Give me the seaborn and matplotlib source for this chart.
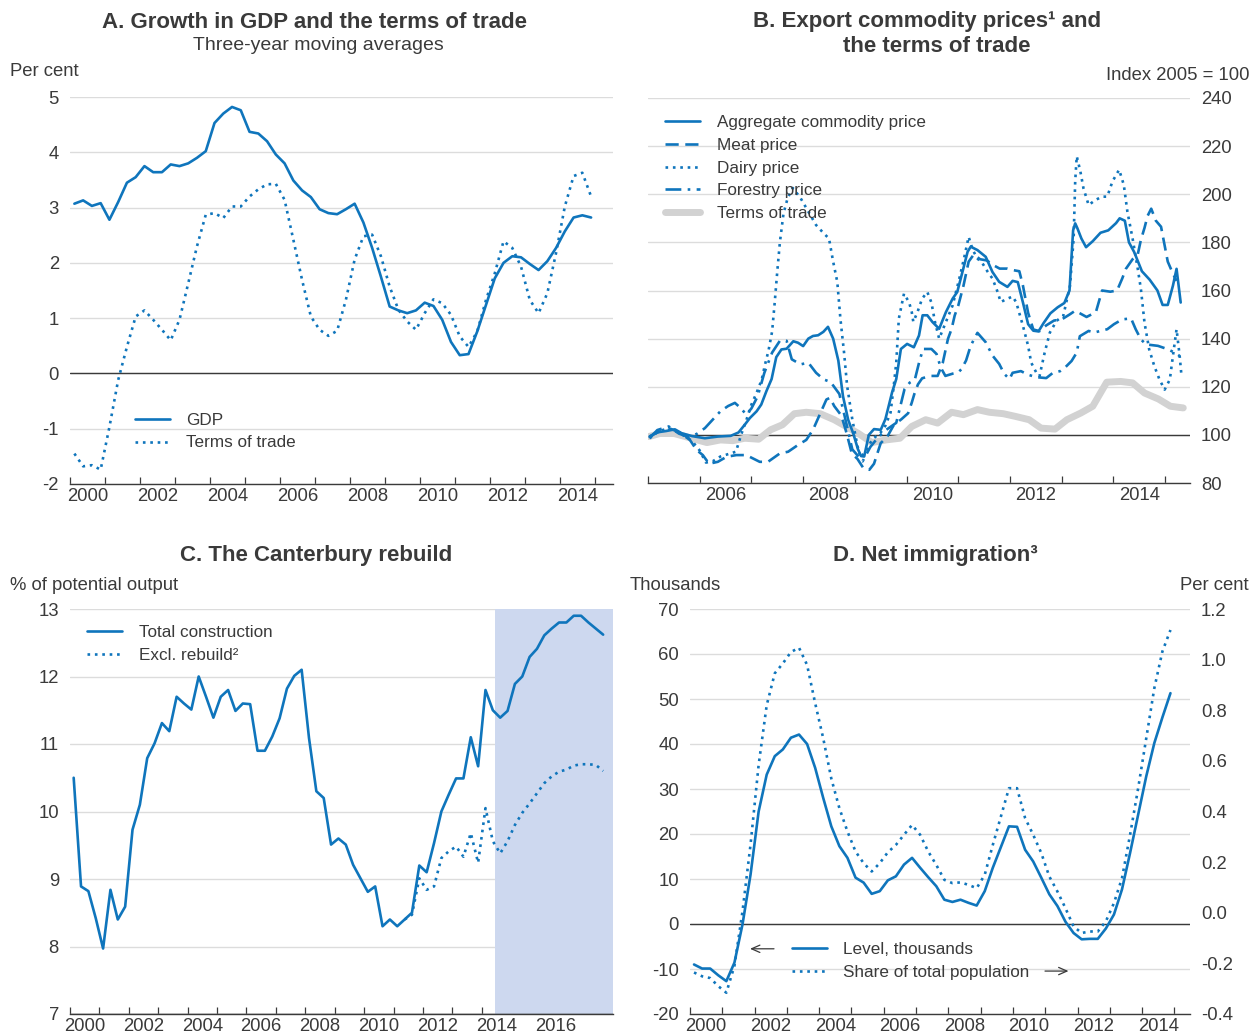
import numpy as np
import pandas as pd
import matplotlib
matplotlib.use("Agg")
import matplotlib.pyplot as plt
import seaborn as sns
from matplotlib.ticker import NullFormatter, FormatStrFormatter

# colours
BLUE = "#0F75BC"
GREY_TOT = "#D2D2D2"
GRID = "#DCDCDC"
TXT = "#3A3A3A"
SHADE = "#CDD8EF"

# ---------------- A. GDP growth and terms of trade (quarterly, 2000Q1-2014Q4)
gdp_growth = [3.07, 3.13, 3.03, 3.08, 2.78, 3.10, 3.45, 3.55,
              3.75, 3.64, 3.64, 3.78, 3.75, 3.80, 3.90, 4.02,
              4.53, 4.70, 4.82, 4.76, 4.37, 4.34, 4.20, 3.96,
              3.80, 3.49, 3.31, 3.19, 2.97, 2.90, 2.88, 2.97,
              3.07, 2.73, 2.27, 1.75, 1.21, 1.14, 1.09, 1.14,
              1.28, 1.22, 0.97, 0.57, 0.33, 0.35, 0.76, 1.24,
              1.72, 2.00, 2.12, 2.10, 1.98, 1.87, 2.03, 2.27,
              2.57, 2.82, 2.86, 2.82]
tot_growth = [-1.45, -1.68, -1.66, -1.74, -0.97, -0.12, 0.48, 1.03,
              1.14, 0.97, 0.79, 0.60, 0.97, 1.63, 2.30, 2.87,
              2.90, 2.81, 3.02, 3.02, 3.20, 3.33, 3.42, 3.43,
              3.14, 2.42, 1.69, 1.03, 0.79, 0.68, 0.77, 1.33,
              2.06, 2.48, 2.51, 2.12, 1.57, 1.15, 0.94, 0.79,
              1.09, 1.34, 1.27, 1.06, 0.67, 0.48, 0.76, 1.33,
              1.81, 2.39, 2.27, 1.93, 1.33, 1.09, 1.45, 2.18,
              3.02, 3.57, 3.63, 3.20]

# ---------------- B. Export commodity prices (index 2005 = 100)
agg_t = [2005.03, 2005.16, 2005.35, 2005.52, 2005.65, 2005.85, 2006.10, 2006.35,
         2006.60, 2006.75, 2006.87, 2006.97, 2007.10, 2007.19, 2007.29, 2007.39,
         2007.48, 2007.58, 2007.68, 2007.81, 2007.90, 2008.00, 2008.10, 2008.19,
         2008.29, 2008.39, 2008.48, 2008.58, 2008.68, 2008.77, 2008.87, 2008.97,
         2009.06, 2009.12, 2009.18, 2009.27, 2009.37, 2009.50, 2009.59, 2009.72,
         2009.80, 2009.89, 2010.01, 2010.14, 2010.24, 2010.31, 2010.40, 2010.50,
         2010.63, 2010.76, 2010.89, 2010.98, 2011.08, 2011.18, 2011.24, 2011.37,
         2011.53, 2011.66, 2011.79, 2011.95, 2012.05, 2012.15, 2012.25, 2012.35,
         2012.45, 2012.55, 2012.65, 2012.78, 2012.92, 2013.05, 2013.15, 2013.22,
         2013.26, 2013.30, 2013.38, 2013.47, 2013.60, 2013.75, 2013.90, 2014.05,
         2014.12, 2014.22, 2014.30, 2014.40, 2014.55, 2014.70, 2014.85, 2014.95,
         2015.05, 2015.15, 2015.22, 2015.30]
agg_v = [99.3, 101.0, 101.6, 102.3, 100.7, 99.5, 98.6, 99.3,
         99.6, 101.0, 104.2, 107.0, 109.8, 112.6, 118.2, 123.2,
         132.3, 135.5, 135.8, 138.9, 138.3, 136.9, 140.0, 141.1,
         141.4, 142.8, 144.9, 140.0, 130.9, 116.1, 106.3, 100.5,
         94.0, 91.2, 91.0, 100.0, 102.4, 102.1, 106.5, 117.7,
         123.2, 135.7, 137.8, 136.4, 141.3, 149.7, 149.7, 146.9,
         144.1, 151.0, 156.6, 159.4, 167.7, 176.1, 178.2, 176.8,
         174.0, 167.7, 163.6, 161.5, 164.0, 163.5, 155.0, 146.0,
         143.3, 143.0, 146.5, 150.5, 153.0, 154.8, 160.0, 185.0,
         187.9, 186.0, 181.6, 178.0, 180.5, 184.0, 185.0, 188.0,
         190.0, 189.0, 180.0, 176.0, 168.0, 164.5, 160.0, 154.0,
         154.0, 162.0, 169.0, 155.0]

meat_t = [2005.03, 2005.20, 2005.45, 2005.61, 2005.81, 2005.94, 2006.06, 2006.18,
          2006.35, 2006.52, 2006.71, 2006.90, 2007.16, 2007.32, 2007.55, 2007.71,
          2007.90, 2008.06, 2008.19, 2008.32, 2008.45, 2008.52, 2008.60, 2008.74,
          2008.84, 2008.94, 2009.05, 2009.17, 2009.28, 2009.37, 2009.50, 2009.62,
          2009.75, 2009.90, 2010.03, 2010.10, 2010.15, 2010.22, 2010.30, 2010.45,
          2010.60, 2010.70, 2010.80, 2010.87, 2010.93, 2011.00, 2011.10, 2011.20,
          2011.30, 2011.42, 2011.55, 2011.68, 2011.80, 2011.95, 2012.05, 2012.18,
          2012.25, 2012.35, 2012.45, 2012.57, 2012.70, 2012.85, 2013.00, 2013.15,
          2013.26, 2013.48, 2013.66, 2013.78, 2013.94, 2014.07, 2014.17, 2014.24,
          2014.37, 2014.47, 2014.53, 2014.60, 2014.66, 2014.73, 2014.82, 2014.92,
          2015.05, 2015.15, 2015.22]
meat_v = [99.3, 101.2, 102.4, 101.0, 97.9, 93.7, 91.6, 88.0,
          88.8, 90.9, 91.6, 91.6, 88.8, 88.8, 92.3, 93.0,
          95.8, 97.9, 102.1, 108.4, 114.7, 115.4, 112.0, 108.0,
          100.7, 92.3, 90.0, 86.0, 85.5, 88.0, 96.6, 99.0,
          104.0, 106.5, 109.0, 113.4, 117.0, 121.0, 123.5, 124.5,
          124.5, 130.0, 139.9, 144.0, 149.6, 153.8, 162.0, 172.0,
          175.0, 173.0, 172.5, 170.5, 169.1, 169.1, 168.5, 168.0,
          162.0, 150.7, 143.8, 143.1, 145.5, 147.5, 148.0, 150.0,
          151.6, 149.0, 151.0, 160.0, 159.5, 160.0, 165.0, 169.0,
          173.0, 175.0, 181.0, 186.0, 191.0, 194.0, 189.0, 186.5,
          172.0, 167.0, 164.0]

dairy_t = [2005.03, 2005.20, 2005.40, 2005.62, 2005.85, 2006.00, 2006.12, 2006.25,
           2006.40, 2006.55, 2006.70, 2006.80, 2006.90, 2007.00, 2007.10, 2007.20,
           2007.26, 2007.33, 2007.40, 2007.45, 2007.50, 2007.55, 2007.62, 2007.70,
           2007.80, 2007.95, 2008.10, 2008.25, 2008.40, 2008.50, 2008.58, 2008.66,
           2008.72, 2008.79, 2008.85, 2008.95, 2009.05, 2009.11, 2009.20, 2009.34,
           2009.50, 2009.59, 2009.69, 2009.75, 2009.80, 2009.85, 2009.95, 2010.05,
           2010.10, 2010.13, 2010.21, 2010.30, 2010.40, 2010.48, 2010.55, 2010.63,
           2010.76, 2010.89, 2011.02, 2011.11, 2011.20, 2011.28, 2011.37, 2011.47,
           2011.57, 2011.66, 2011.76, 2011.82, 2011.95, 2012.05, 2012.12, 2012.25,
           2012.35, 2012.41, 2012.51, 2012.57, 2012.67, 2012.77, 2012.90, 2013.03,
           2013.16, 2013.23, 2013.26, 2013.29, 2013.36, 2013.42, 2013.52, 2013.65,
           2013.78, 2013.88, 2013.98, 2014.11, 2014.20, 2014.27, 2014.37, 2014.47,
           2014.53, 2014.60, 2014.69, 2014.79, 2014.89, 2014.99, 2015.09, 2015.15,
           2015.22, 2015.28, 2015.31]
dairy_v = [98.6, 101.4, 102.8, 100.7, 97.5, 93.5, 88.5, 89.0,
           91.0, 92.0, 93.0, 100.0, 106.0, 112.6, 117.5, 123.0,
           129.0, 135.0, 143.0, 155.0, 168.0, 180.0, 192.0, 198.4,
           202.6, 198.4, 192.8, 187.2, 183.7, 181.6, 172.0, 163.6,
           148.3, 134.4, 120.4, 106.5, 95.4, 90.5, 93.0, 98.2,
           101.0, 103.8, 109.3, 120.0, 130.0, 148.3, 158.7, 155.0,
           151.0, 147.0, 151.0, 156.6, 159.4, 155.0, 146.8, 140.0,
           146.9, 153.8, 165.0, 173.3, 182.3, 176.8, 173.3, 171.2,
           167.7, 165.0, 159.4, 155.2, 156.6, 157.5, 155.1, 145.3,
           137.0, 130.0, 125.8, 124.4, 134.2, 142.5, 147.4, 149.5,
           162.0, 181.6, 205.3, 215.8, 209.5, 202.5, 195.5, 197.6,
           199.0, 199.0, 205.3, 210.2, 203.9, 192.7, 181.6, 169.0,
           160.7, 146.7, 135.6, 128.6, 123.0, 118.8, 123.0, 132.8,
           143.9, 132.8, 125.8]

forest_t = [2005.03, 2005.18, 2005.40, 2005.60, 2005.80, 2005.95, 2006.10, 2006.25,
            2006.40, 2006.55, 2006.68, 2006.80, 2006.90, 2007.00, 2007.12, 2007.25,
            2007.40, 2007.55, 2007.68, 2007.78, 2007.95, 2008.10, 2008.25, 2008.40,
            2008.53, 2008.70, 2008.80, 2008.95, 2009.05, 2009.15, 2009.30, 2009.45,
            2009.60, 2009.80, 2009.96, 2010.06, 2010.16, 2010.25, 2010.32, 2010.48,
            2010.58, 2010.66, 2010.75, 2010.90, 2011.00, 2011.06, 2011.15, 2011.24,
            2011.37, 2011.53, 2011.66, 2011.79, 2011.89, 2011.99, 2012.05, 2012.21,
            2012.35, 2012.50, 2012.70, 2012.83, 2012.97, 2013.06, 2013.19, 2013.29,
            2013.35, 2013.52, 2013.62, 2013.75, 2013.88, 2014.01, 2014.17, 2014.34,
            2014.43, 2014.53, 2014.63, 2014.86, 2015.05, 2015.18, 2015.28]
forest_v = [98.6, 102.0, 103.5, 100.5, 99.0, 100.5, 102.8, 106.3,
            109.8, 112.0, 113.3, 111.0, 108.4, 111.0, 116.0, 125.8,
            134.2, 139.1, 139.1, 131.4, 129.3, 130.0, 125.8, 123.0,
            122.0, 117.0, 108.0, 94.0, 91.5, 89.0, 95.0, 99.0,
            102.0, 105.0, 119.0, 121.7, 123.0, 130.8, 135.7, 135.7,
            133.6, 128.0, 124.5, 125.5, 126.0, 127.3, 130.9, 137.1,
            142.4, 138.5, 133.0, 129.5, 125.3, 123.2, 125.8, 126.5,
            125.0, 124.0, 123.6, 125.8, 126.5, 127.9, 130.7, 134.2,
            141.0, 143.2, 142.5, 143.2, 143.9, 146.0, 148.0, 148.4,
            143.9, 139.7, 137.6, 137.0, 135.6, 134.2, 132.8]

tot_idx_t = [2005.02, 2005.25, 2005.48, 2005.72, 2005.95, 2006.14, 2006.40, 2006.64,
             2006.87, 2007.14, 2007.37, 2007.60, 2007.83, 2008.06, 2008.33, 2008.60,
             2008.83, 2009.06, 2009.33, 2009.60, 2009.87, 2010.10, 2010.37, 2010.60,
             2010.87, 2011.10, 2011.37, 2011.60, 2011.87, 2012.10, 2012.37, 2012.60,
             2012.87, 2013.10, 2013.37, 2013.60, 2013.87, 2014.14, 2014.37, 2014.60,
             2014.87, 2015.10, 2015.35]
tot_idx_v = [99.3, 100.7, 100.7, 99.3, 97.9, 96.8, 97.9, 97.6,
             98.6, 98.2, 102.1, 104.2, 108.8, 109.4, 108.8, 106.3,
             103.5, 100.7, 96.8, 97.9, 98.6, 103.5, 106.3, 104.9,
             109.4, 108.4, 110.5, 109.4, 108.8, 107.7, 106.3, 102.8,
             102.4, 106.3, 109.1, 111.9, 121.9, 122.2, 121.6, 117.4,
             114.9, 111.9, 111.2]

# ---------------- C. Canterbury rebuild (quarterly, 2000Q1-2018Q1)
construction = [10.50, 8.89, 8.82, 8.42, 7.97, 8.84, 8.40, 8.59,
                9.73, 10.10, 10.79, 11.01, 11.31, 11.19, 11.70, 11.60,
                11.51, 12.00, 11.70, 11.39, 11.70, 11.80, 11.49, 11.60,
                11.59, 10.90, 10.90, 11.11, 11.38, 11.82, 12.01, 12.10,
                11.09, 10.30, 10.20, 9.51, 9.60, 9.51, 9.21, 9.01,
                8.81, 8.89, 8.30, 8.40, 8.30, 8.40, 8.50, 9.20,
                9.10, 9.53, 10.00, 10.25, 10.49, 10.49, 11.10, 10.67,
                11.80, 11.50, 11.39, 11.49, 11.89, 12.00, 12.29, 12.41,
                12.61, 12.71, 12.80, 12.80, 12.90, 12.90, 12.80, 12.71,
                12.62]
# excluding rebuild, from 2011Q2
excl_rebuild = [8.40, 8.47, 9.01, 8.84, 8.89, 9.31, 9.41, 9.48,
                9.33, 9.68, 9.24, 10.05, 9.56, 9.38, 9.56, 9.80,
                9.98, 10.12, 10.27, 10.42, 10.52, 10.59, 10.62, 10.68,
                10.70, 10.70, 10.69, 10.60]
projection_start = 2014.45

# ---------------- D. Net immigration (quarterly, 2000Q1-2014Q4)
migr_level = [-9.0, -9.9, -9.9, -11.4, -12.7, -8.6, -0.1, 11.0, 25.0, 33.2,
              37.3, 38.8, 41.4, 42.1, 40.0, 34.7, 28.0, 21.7, 17.3, 14.7,
              10.3, 9.2, 6.7, 7.3, 9.7, 10.6, 13.2, 14.7, 12.5, 10.4,
              8.4, 5.4, 4.9, 5.4, 4.7, 4.1, 7.3, 12.5, 17.1, 21.7,
              21.6, 16.5, 13.9, 10.3, 6.6, 4.0, 0.5, -2.0, -3.4, -3.3,
              -3.3, -1.0, 2.1, 7.7, 15.8, 24.3, 32.8, 40.2, 45.9, 51.3]
migr_share = [-0.236, -0.251, -0.258, -0.290, -0.316, -0.210, 0.005, 0.270, 0.584, 0.820,
              0.946, 0.985, 1.030, 1.047, 0.979, 0.828, 0.689, 0.530, 0.413, 0.321,
              0.242, 0.196, 0.163, 0.196, 0.239, 0.268, 0.308, 0.347, 0.308, 0.242,
              0.189, 0.130, 0.117, 0.120, 0.110, 0.097, 0.150, 0.268, 0.380, 0.492,
              0.492, 0.374, 0.308, 0.236, 0.143, 0.084, 0.018, -0.054, -0.080, -0.074,
              -0.074, -0.034, 0.038, 0.137, 0.308, 0.492, 0.689, 0.887, 1.032, 1.117]

# quarter mid-points
q_a = np.arange(2000, 2015, 0.25) + 0.125
q_c = np.arange(2000, 2018.25, 0.25) + 0.125
df_a = pd.DataFrame({"date": q_a, "gdp": gdp_growth, "tot": tot_growth})
df_c = pd.DataFrame({"date": q_c, "total": construction})
df_c_ex = pd.DataFrame({"date": q_c[-len(excl_rebuild):], "excl": excl_rebuild})
df_d = pd.DataFrame({"date": q_a, "level": migr_level, "share": migr_share})

sns.set_theme(style="white")
plt.rcParams["font.family"] = ["Liberation Sans", "DejaVu Sans"]
plt.rcParams["axes.unicode_minus"] = False

W, H = 1251, 1036
fig = plt.figure(figsize=(W / 100, H / 100), dpi=100)


def px_axes(left, right, top, bottom):
    return fig.add_axes([left / W, 1 - bottom / H, (right - left) / W, (bottom - top) / H])


DOT = (0, (1, 1.8))
DASH = (0, (5, 2.5))
DASHDOT = (0, (6, 2.4, 1, 2.4))
LW = 1.9
FS = 13.3      # ticks and unit labels
LFS = 12.3     # legend
TFS = 16       # panel titles


def style_axis(ax, x0, x1, lab0, lab1, yticks, zero=0.0, right=False):
    ax.set_xlim(x0, x1)
    ax.set_xticks(range(int(np.ceil(x0 - 0.01)), int(x1) + 1))
    ax.xaxis.set_major_formatter(NullFormatter())
    years = list(range(lab0, lab1 + 1, 2))
    ax.set_xticks([y + 0.5 for y in years], minor=True)
    ax.set_xticklabels([str(y) for y in years], minor=True)
    ax.tick_params(axis="x", which="major", direction="in", length=5, width=0.9,
                   color=TXT, bottom=True)
    ax.tick_params(axis="x", which="minor", length=0, labelsize=FS, labelcolor=TXT, pad=3)
    ax.set_ylim(yticks[0], yticks[-1])
    ax.set_yticks(yticks)
    ax.tick_params(axis="y", length=0, labelsize=FS, labelcolor=TXT, pad=8)
    if right:
        ax.yaxis.tick_right()
    for s in ["top", "left", "right"]:
        ax.spines[s].set_visible(False)
    ax.spines["bottom"].set_color(TXT)
    ax.spines["bottom"].set_linewidth(1.0)
    ax.grid(axis="y", color=GRID, lw=1.0)
    ax.grid(axis="x", visible=False)
    ax.set_axisbelow(True)
    ax.axhline(zero, color=TXT, lw=1.0, zorder=1.5)
    ax.set_xlabel("")
    ax.set_ylabel("")


def legend(ax, handles, labels, x, y):
    leg = ax.legend(handles, labels, loc="upper left", bbox_to_anchor=(x, y),
                    frameon=False, fontsize=LFS, handlelength=2.05, handletextpad=0.95,
                    labelspacing=0.45, borderpad=0, borderaxespad=0)
    for t in leg.get_texts():
        t.set_color(TXT)
    return leg


# ---- Panel A
axA = px_axes(70, 613, 97, 484)
sns.lineplot(data=df_a, x="date", y="gdp", ax=axA, color=BLUE, lw=LW, errorbar=None)
sns.lineplot(data=df_a, x="date", y="tot", ax=axA, color=BLUE, lw=LW, errorbar=None,
             linestyle=DOT, dash_capstyle="butt")
style_axis(axA, 2000.0, 2015.5, 2000, 2014, [-2, -1, 0, 1, 2, 3, 4, 5])
legend(axA, axA.lines[:2], ["GDP", "Terms of trade"], 0.12, 0.184)

# ---- Panel B
axB = px_axes(648, 1190, 98, 483)
sns.lineplot(x=tot_idx_t, y=tot_idx_v, ax=axB, color=GREY_TOT, lw=5.0, errorbar=None)
sns.lineplot(x=forest_t, y=forest_v, ax=axB, color=BLUE, lw=LW, errorbar=None,
             linestyle=DASHDOT, dash_capstyle="butt")
sns.lineplot(x=dairy_t, y=dairy_v, ax=axB, color=BLUE, lw=LW, errorbar=None,
             linestyle=DOT, dash_capstyle="butt")
sns.lineplot(x=meat_t, y=meat_v, ax=axB, color=BLUE, lw=LW, errorbar=None,
             linestyle=DASH, dash_capstyle="butt")
sns.lineplot(x=agg_t, y=agg_v, ax=axB, color=BLUE, lw=LW, errorbar=None)
style_axis(axB, 2005.0, 2015.48, 2006, 2014, list(range(80, 241, 20)), zero=100, right=True)
lB = axB.lines
legend(axB, [lB[4], lB[3], lB[2], lB[1], lB[0]],
       ["Aggregate commodity price", "Meat price", "Dairy price", "Forestry price",
        "Terms of trade"], 0.032, 0.955)

# ---- Panel C
axC = px_axes(70, 613, 609, 1014)
axC.axvspan(projection_start, 2018.46, color=SHADE, lw=0, zorder=1)
sns.lineplot(data=df_c, x="date", y="total", ax=axC, color=BLUE, lw=LW, errorbar=None, zorder=3)
sns.lineplot(data=df_c_ex, x="date", y="excl", ax=axC, color=BLUE, lw=LW, errorbar=None,
             linestyle=DOT, dash_capstyle="butt", zorder=3)
style_axis(axC, 2000.0, 2018.46, 2000, 2016, [7, 8, 9, 10, 11, 12, 13], zero=7)
legend(axC, axC.lines[:2], ["Total construction", "Excl. rebuild²"], 0.032, 0.96)

# ---- Panel D
axD = px_axes(690, 1190, 609, 1014)
sns.lineplot(data=df_d, x="date", y="level", ax=axD, color=BLUE, lw=LW, errorbar=None)
style_axis(axD, 2000.0, 2015.48, 2000, 2014, list(range(-20, 71, 10)))
axD2 = axD.twinx()
sns.lineplot(data=df_d, x="date", y="share", ax=axD2, color=BLUE, lw=LW, errorbar=None,
             linestyle=DOT, dash_capstyle="butt")
axD2.set_ylim(-0.4, 1.2)
axD2.set_yticks(np.round(np.arange(-0.4, 1.21, 0.2), 1))
axD2.yaxis.set_major_formatter(FormatStrFormatter("%.1f"))
axD2.tick_params(axis="y", length=0, labelsize=FS, labelcolor=TXT, pad=8)
axD2.set_ylabel("")
for s in axD2.spines.values():
    s.set_visible(False)
legend(axD, [axD.lines[0], axD2.lines[0]], ["Level, thousands", "Share of total population"],
       0.204, 0.178)
arrow = dict(arrowstyle="->,head_length=0.5,head_width=0.22", color=TXT, lw=0.9,
             shrinkA=0, shrinkB=0)
axD.annotate("", xy=(0.12, 0.161), xytext=(0.168, 0.161), xycoords="axes fraction",
             arrowprops=arrow)
axD.annotate("", xy=(0.757, 0.106), xytext=(0.71, 0.106), xycoords="axes fraction",
             arrowprops=arrow)

# ---- titles and unit labels
fig.text(315 / W, 1 - 22 / H, "A. Growth in GDP and the terms of trade", ha="center",
         va="center", fontsize=TFS, fontweight="bold", color=TXT)
fig.text(318 / W, 1 - 45 / H, "Three-year moving averages", ha="center", va="center",
         fontsize=14, color=TXT)
fig.text(10 / W, 1 - 72 / H, "Per cent", ha="left", va="center", fontsize=FS, color=TXT)
fig.text(927 / W, 1 - 22 / H, "B. Export commodity prices¹ and", ha="center",
         va="center", fontsize=TFS, fontweight="bold", color=TXT)
fig.text(937 / W, 1 - 46 / H, "the terms of trade", ha="center", va="center",
         fontsize=TFS, fontweight="bold", color=TXT)
fig.text(1249 / W, 1 - 75 / H, "Index 2005 = 100", ha="right", va="center", fontsize=FS,
         color=TXT)
fig.text(316 / W, 1 - 556 / H, "C. The Canterbury rebuild", ha="center", va="center",
         fontsize=TFS, fontweight="bold", color=TXT)
fig.text(10 / W, 1 - 585 / H, "% of potential output", ha="left", va="center", fontsize=FS,
         color=TXT)
fig.text(935 / W, 1 - 556 / H, "D. Net immigration³", ha="center", va="center",
         fontsize=TFS, fontweight="bold", color=TXT)
fig.text(630 / W, 1 - 585 / H, "Thousands", ha="left", va="center", fontsize=FS, color=TXT)
fig.text(1249 / W, 1 - 585 / H, "Per cent", ha="right", va="center", fontsize=FS, color=TXT)

fig.savefig("out.png", dpi=100)
